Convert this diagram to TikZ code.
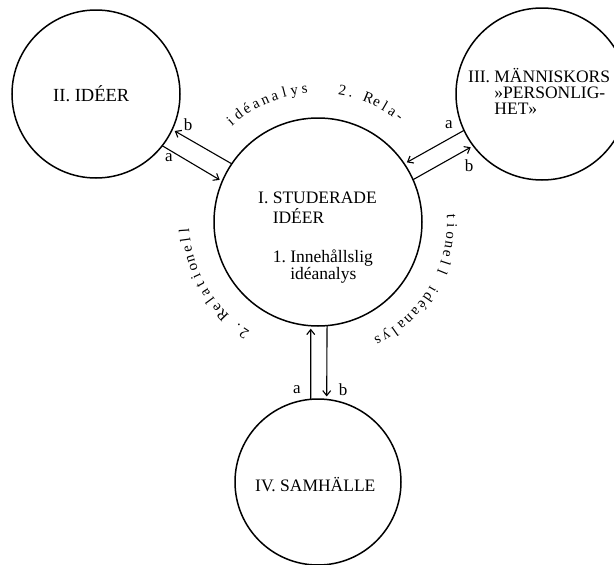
\documentclass[tikz,border=0pt]{standalone}
\usepackage{fontspec}
\setmainfont{Liberation Serif}
\usetikzlibrary{arrows.meta}

\newcommand\arcfont{\fontsize{15}{15}\selectfont}

\begin{document}
\begin{tikzpicture}[x=1pt,y=1pt,
  ring/.style={circle, draw=black, line width=1.5pt, inner sep=0pt, outer sep=0pt},
  link/.style={-{Straight Barb[length=5pt,width=8pt]}, line width=1.1pt, shorten >=3pt},
  tag/.style={font=\fontsize{17}{17}\selectfont, inner sep=0pt},
  lbl/.style={font=\fontsize{17.5}{15.5}\selectfont, inner sep=0pt, anchor=base west},
  arcch/.style={font=\arcfont, inner sep=0pt, anchor=base, rotate=#1-90}]
\useasboundingbox (0,0) rectangle (614,-565);
\clip (0,0) rectangle (614,-565);
% the four circles
\node[ring, minimum size=208] (stud) at (318,-222) {};
\node[ring, minimum size=168] (ideer) at (96,-94) {};
\node[ring, minimum size=172] (mann) at (542,-94) {};
\node[ring, minimum size=166] (samh) at (318,-482) {};
% texts inside
\node[lbl] (studtxt) at (258,-203.5) {\begin{tabular}[t]{@{}l@{\ }l@{}}
  I. & STUDERADE\\
     & IDÉER\\[22pt]
     & 1.\ Innehållslig\\
     & \phantom{1.}\ idéanalys
  \end{tabular}};
\node[lbl, font=\fontsize{18.5}{15.5}\selectfont] (ideertxt) at (53,-101.5) {II. IDÉER};
\node[lbl] (manntxt) at (468,-82) {\begin{tabular}[t]{@{}l@{\ }l@{}}
  III. & MÄNNISKORS\\
       & »PERSONLIG-\\
       & HET»
  \end{tabular}};
\node[lbl] (samhtxt) at (255,-491.5) {IV. SAMHÄLLE};
% arrows
\draw[link] (ideer.-38) -- (stud.157);
\draw[link] (stud.146) -- (ideer.-25);
\draw[link] (mann.205) -- (stud.34);
\draw[link] (stud.24) -- (mann.217);
\draw[link] (samh.95) -- (stud.266);
\draw[link] (stud.275) -- (samh.84);
\node[tag] (ia) at (169,-158) {a};
\node[tag] (ib) at (188,-125) {b};
\node[tag] (ma) at (449,-125) {a};
\node[tag] (mb) at (469,-166) {b};
\node[tag] (sa) at (297,-390) {a};
\node[tag] (sb) at (343,-390) {b};
% spaced letters round I, read clockwise
\foreach \ch [count=\k, evaluate=\k as \a using 236.5-(\k-1)*4.05] in {2,.,{},R,e,l,a,t,i,o,n,e,l,l}
  \node[arcch=\a] (left\k) at ([shift={(\a:129)}]stud.center) {\ch};
\foreach \ch [count=\k, evaluate=\k as \a using 131-(\k-1)*4.4] in {i,d,é,a,n,a,l,y,s}
  \node[arcch=\a] (top\k) at ([shift={(\a:129)}]stud.center) {\ch};
\foreach \ch [count=\k, evaluate=\k as \a using 79.5-(\k-1)*3.9] in {2,.,{},R,e,l,a,-}
  \node[arcch=\a] (mid\k) at ([shift={(\a:129)}]stud.center) {\ch};
\foreach \ch [count=\k, evaluate=\k as \a using 2.5-(\k-1)*4.1] in {t,i,o,n,e,l,l,{},i,d,é,a,n,a,l,y,s}
  \node[arcch=\a] (right\k) at ([shift={(\a:129)}]stud.center) {\ch};
\end{tikzpicture}
\end{document}
